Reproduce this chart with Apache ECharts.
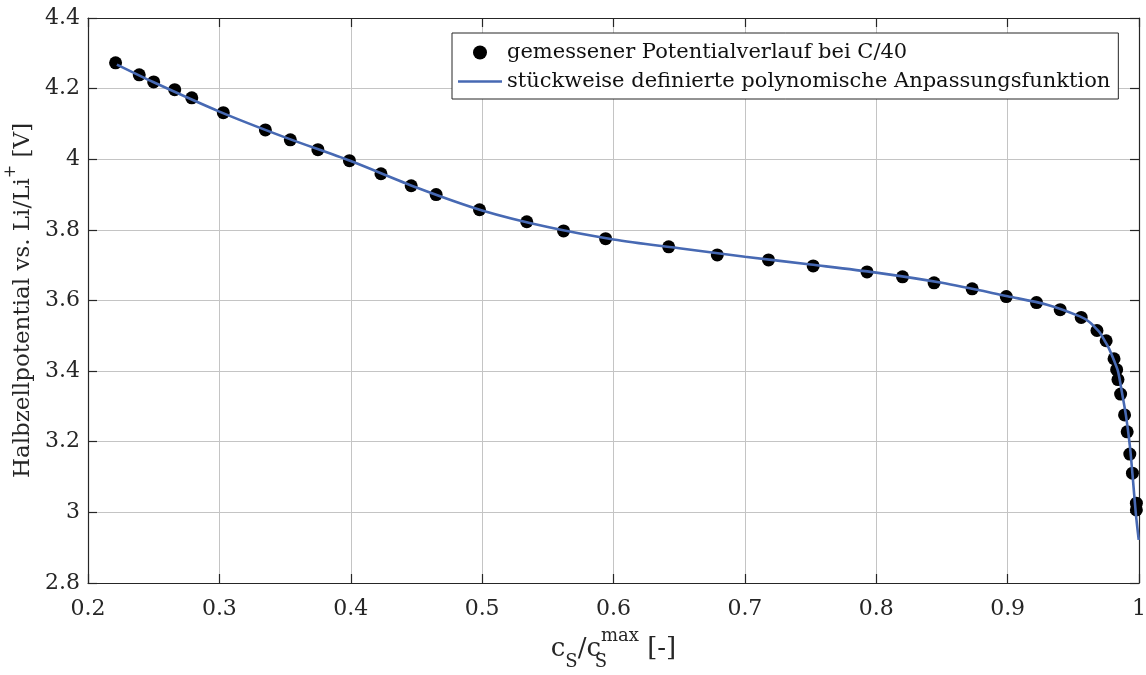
<!DOCTYPE html>
<html><head><meta charset="utf-8">
<script src="https://cdn.jsdelivr.net/npm/echarts@6/dist/echarts.min.js"></script>
<style>html,body{margin:0;background:#fff}#c{width:1146px;height:675px}</style>
</head><body><div id="c"></div>
<script>
// measured potential (dots)
const measuredX = [0.221,0.239,0.250,0.266,0.279,0.303,0.335,0.354,0.375,0.399,0.423,0.446,0.465,0.498,0.534,0.562,0.594,0.642,0.679,0.718,0.752,0.793,0.820,0.844,0.873,0.899,0.922,0.940,0.956,0.968,0.975,0.981,0.983,0.984,0.986,0.989,0.991,0.993,0.995,0.998,0.998];
const measuredY = [4.273,4.239,4.219,4.197,4.174,4.132,4.083,4.055,4.027,3.996,3.959,3.925,3.900,3.857,3.823,3.797,3.775,3.752,3.729,3.715,3.698,3.681,3.667,3.650,3.633,3.611,3.594,3.574,3.552,3.515,3.486,3.435,3.404,3.376,3.335,3.276,3.228,3.165,3.111,3.026,3.007];
// piecewise polynomial fit (line)
const fitX = [0.222,0.25,0.3,0.35,0.4,0.45,0.5,0.55,0.6,0.65,0.7,0.75,0.8,0.85,0.9,0.93,0.955,0.962,0.967,0.970,0.974,0.977,0.981,0.984,0.987,0.990,0.993,0.995,0.9975,0.9998];
const fitY = [4.268,4.218,4.135,4.062,3.995,3.920,3.855,3.808,3.773,3.748,3.724,3.702,3.679,3.650,3.612,3.588,3.555,3.540,3.522,3.510,3.485,3.465,3.430,3.400,3.340,3.276,3.190,3.110,3.000,2.922];
// axis ticks
const xTicks = [0.2,0.3,0.4,0.5,0.6,0.7,0.8,0.9,1.0];
const yTicks = [2.8,3.0,3.2,3.4,3.6,3.8,4.0,4.2,4.4];

const FONT = 'DejaVu Serif';
const TXT = '#262626';
const BLUE = '#4769b3';
const chart = echarts.init(document.getElementById('c'), null, {renderer:'canvas'});
const xMin = xTicks[0], xMax = xTicks[xTicks.length-1], xInt = +(xTicks[1]-xTicks[0]).toFixed(3);
const yMin = yTicks[0], yMax = yTicks[yTicks.length-1], yInt = +(yTicks[1]-yTicks[0]).toFixed(3);
const axLine = {show:true, lineStyle:{color:TXT, width:1.2}};
const tick = {show:true, inside:true, length:9, lineStyle:{color:TXT, width:1.2}};
const grid = {show:true, lineStyle:{color:'#c4c4c4', width:1}};
chart.setOption({
  animation:false,
  backgroundColor:'#fff',
  textStyle:{fontFamily:FONT},
  grid:{left:88, right:7, top:18, bottom:92, containLabel:false, outerBoundsMode:'none'},
  legend:{
    orient:'vertical', left:452, top:33,
    borderColor:TXT, borderWidth:1, backgroundColor:'#fff',
    padding:[9,8,7,6], itemGap:8, itemWidth:44, itemHeight:14,
    textStyle:{fontFamily:FONT, fontSize:21, color:'#111'},
    data:[{name:'gemessener Potentialverlauf bei C/40', icon:'circle'},
          {name:'stückweise definierte polynomische Anpassungsfunktion', icon:'path://M0,0H44V2.6H0Z'}]
  },
  xAxis:[
    {type:'value', min:xMin, max:xMax, interval:xInt, position:'bottom',
     axisLine:axLine, axisTick:tick, splitLine:grid,
     axisLabel:{fontFamily:FONT, fontSize:22, color:TXT, margin:15},
     name:'{m|c}{s|S}{m|/c}{s2|S}{p|max}{m| [-]}', nameLocation:'middle', nameGap:44,
     nameTextStyle:{rich:{
       m:{fontFamily:FONT, fontSize:26, color:TXT, lineHeight:44, verticalAlign:'middle'},
       s:{fontFamily:FONT, fontSize:18, color:TXT, lineHeight:44, verticalAlign:'bottom'},
       s2:{fontFamily:FONT, fontSize:18, color:TXT, lineHeight:44, verticalAlign:'bottom', width:0},
       p:{fontFamily:FONT, fontSize:18, color:TXT, lineHeight:44, verticalAlign:'top'}
     }}},
    {type:'value', min:xMin, max:xMax, interval:xInt, position:'top',
     axisLine:axLine, axisTick:tick, splitLine:{show:false}, axisLabel:{show:false}}
  ],
  yAxis:[
    {type:'value', min:yMin, max:yMax, interval:yInt, position:'left',
     axisLine:axLine, axisTick:tick, splitLine:grid,
     axisLabel:{fontFamily:FONT, fontSize:22, color:TXT, margin:8},
     name:'{m|Halbzellpotential vs. Li/Li}{p|+}{m| [V]}', nameLocation:'middle', nameGap:40, nameRotate:90,
     nameTextStyle:{rich:{
       m:{fontFamily:FONT, fontSize:23, color:TXT, lineHeight:40, verticalAlign:'middle'},
       p:{fontFamily:FONT, fontSize:16, color:TXT, lineHeight:40, verticalAlign:'top'}
     }}},
    {type:'value', min:yMin, max:yMax, interval:yInt, position:'right',
     axisLine:axLine, axisTick:tick, splitLine:{show:false}, axisLabel:{show:false}}
  ],
  series:[
    {name:'gemessener Potentialverlauf bei C/40', type:'scatter', symbol:'circle', symbolSize:13,
     itemStyle:{color:'#000', opacity:1}, z:3,
     data:measuredX.map((x,i)=>[x, measuredY[i]])},
    {name:'stückweise definierte polynomische Anpassungsfunktion', type:'line', symbol:'none', showSymbol:false,
     smooth:0.3, lineStyle:{color:BLUE, width:2.6}, itemStyle:{color:BLUE}, z:4,
     data:fitX.map((x,i)=>[x, fitY[i]])}
  ]
});
</script></body></html>
